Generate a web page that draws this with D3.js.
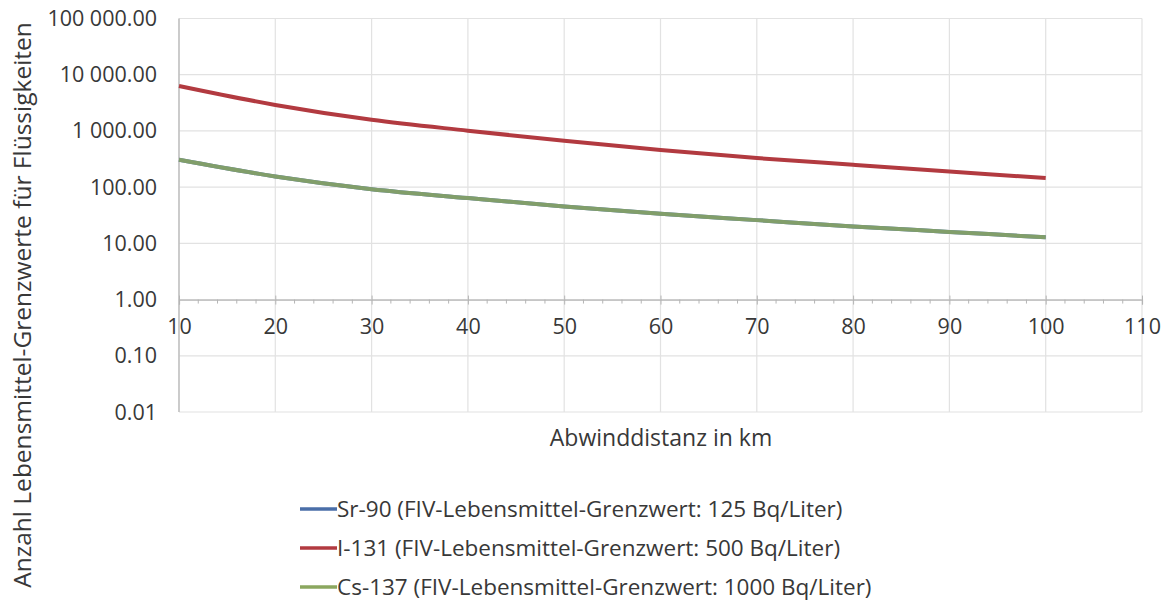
<!DOCTYPE html>
<html lang="de">
<head>
<meta charset="UTF-8">
<title>Lebensmittel-Grenzwerte</title>
<style>
    body { margin: 0; padding: 0; background: #ffffff; }
    #chart svg { display: block; }
    text { font-family: "Open Sans", "Liberation Sans", sans-serif; fill: #383838; }
</style>
</head>
<body>
<div id="chart"></div>
<script src="https://d3js.org/d3.v7.min.js"></script>
<script>
    // values (distance in km)
    const distances = [10, 20, 30, 40, 50, 60, 70, 80, 90, 100];
    const sr90 = [307, 155, 92, 64, 45.4, 33.7, 25.9, 20, 16, 12.8];
    const i131 = [6300, 2900, 1580, 1010, 667, 456, 329, 250, 190, 145];
    const cs137 = [307, 155, 92, 64, 45.4, 33.7, 25.9, 20, 16, 12.8];

    const seriesNames = [
        'Sr-90 (FIV-Lebensmittel-Grenzwert: 125 Bq/Liter)',
        'I-131 (FIV-Lebensmittel-Grenzwert: 500 Bq/Liter)',
        'Cs-137 (FIV-Lebensmittel-Grenzwert: 1000 Bq/Liter)'
    ];
    const seriesColors = ['#4a6ea8', '#b23a40', '#8ba75f'];

    const xTicks = [10, 20, 30, 40, 50, 60, 70, 80, 90, 100, 110];
    const yTicks = [0.01, 0.1, 1, 10, 100, 1000, 10000, 100000];

    const width = 1173, height = 611;
    const plot = { left: 179, right: 1142, top: 18.5, bottom: 412 };

    const svg = d3.select('#chart').append('svg')
        .attr('width', width)
        .attr('height', height);

    const x = d3.scaleLinear().domain([10, 110]).range([plot.left, plot.right]);
    const y = d3.scaleLog().domain([0.01, 100000]).range([plot.bottom, plot.top]);

    // gridlines
    svg.append('g').selectAll('line.hgrid')
        .data(yTicks)
        .join('line')
        .attr('x1', plot.left).attr('x2', plot.right)
        .attr('y1', d => y(d)).attr('y2', d => y(d))
        .attr('stroke', '#e2e2e2').attr('stroke-width', 1.2);

    svg.append('g').selectAll('line.vgrid')
        .data(xTicks)
        .join('line')
        .attr('x1', d => x(d)).attr('x2', d => x(d))
        .attr('y1', plot.top).attr('y2', plot.bottom)
        .attr('stroke', '#e2e2e2').attr('stroke-width', 1.2);

    // left axis line
    svg.append('line')
        .attr('x1', plot.left).attr('x2', plot.left)
        .attr('y1', plot.top).attr('y2', plot.bottom)
        .attr('stroke', '#b5b5b5').attr('stroke-width', 1.2);

    // y tick labels
    const fmt = v => d3.format(',.2f')(v).replace(/,/g, ' ');
    svg.append('g').selectAll('text')
        .data(yTicks)
        .join('text')
        .attr('x', 157)
        .attr('y', d => y(d))
        .attr('dy', '0.35em')
        .attr('text-anchor', 'end')
        .style('font-size', '21.5px')
        .text(fmt);

    // x axis crossing at 1.00
    const xAxis = svg.append('g')
        .attr('transform', `translate(0,${y(1)})`)
        .call(d3.axisBottom(x).tickValues(xTicks).tickSize(5).tickFormat(d3.format('d')));
    xAxis.select('.domain').attr('stroke', '#b5b5b5').attr('stroke-width', 1.2);
    xAxis.selectAll('.tick line').attr('stroke', '#b5b5b5').attr('y1', -4);
    xAxis.selectAll('.tick text')
        .attr('y', 19)
        .style('font-family', '"Open Sans", sans-serif')
        .style('font-size', '21.5px')
        .attr('fill', '#383838');

    // minor ticks every 2 km
    xAxis.append('g').selectAll('line')
        .data(d3.range(12, 110, 2).filter(d => d % 10 !== 0))
        .join('line')
        .attr('x1', d => x(d)).attr('x2', d => x(d))
        .attr('y1', 0).attr('y2', 4)
        .attr('stroke', '#b5b5b5');

    // lines
    const line = d3.line()
        .x((d, i) => x(distances[i]))
        .y(d => y(d))
        .curve(d3.curveCatmullRom.alpha(0.5));

    const values = [sr90, i131, cs137];
    svg.append('g').selectAll('path')
        .data(values)
        .join('path')
        .attr('d', line)
        .attr('fill', 'none')
        .attr('stroke', (d, i) => seriesColors[i])
        .attr('stroke-width', 4)
        .attr('stroke-opacity', (d, i) => i === 2 ? 0.85 : 1)
        .attr('stroke-linecap', 'butt');

    // axis titles
    svg.append('text')
        .attr('x', 661).attr('y', 438)
        .attr('dy', '0.35em')
        .attr('text-anchor', 'middle')
        .style('font-size', '23px')
        .text('Abwinddistanz in km');

    svg.append('text')
        .attr('transform', 'translate(22,305) rotate(-90)')
        .attr('dy', '0.35em')
        .attr('text-anchor', 'middle')
        .style('font-size', '24.5px')
        .text('Anzahl Lebensmittel-Grenzwerte für Flüssigkeiten');

    // legend
    const legend = svg.append('g').selectAll('g')
        .data(seriesNames)
        .join('g')
        .attr('transform', (d, i) => `translate(300,${509 + i * 39})`);

    legend.append('line')
        .attr('x1', 0).attr('x2', 37)
        .attr('stroke', (d, i) => seriesColors[i])
        .attr('stroke-width', 3.5);

    legend.append('text')
        .attr('x', 37)
        .attr('dy', '0.35em')
        .style('font-size', '22.5px')
        .text(d => d);
</script>
</body>
</html>
